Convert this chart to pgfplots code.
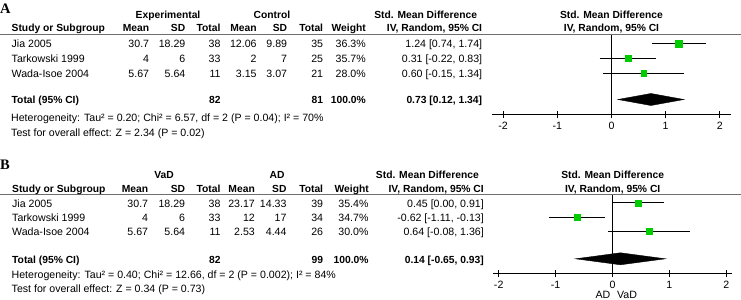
\documentclass[border=0pt]{standalone}
\usepackage{fontspec}
\setmainfont{Liberation Sans}
\newfontfamily\figserif{Liberation Serif}
\usepackage{pgfplots}
\pgfplotsset{compat=1.18}
\definecolor{rmgreen}{RGB}{0,204,0}
\definecolor{rulegray}{RGB}{110,110,110}
\newcommand{\R}[3]{\node[anchor=base east] at (#1bp,-#2bp) {#3};}
\newcommand{\Lt}[3]{\node[anchor=base west] at (#1bp,-#2bp) {#3};}
\newcommand{\Ct}[3]{\node[anchor=base] at (#1bp,-#2bp) {#3};}
\newcommand{\B}{\bfseries\fontsize{10.3bp}{12bp}\selectfont}
\begin{document}
\begin{tikzpicture}[every node/.style={font=\fontsize{10.6bp}{12bp}\selectfont, inner sep=0pt, text=black}]
\useasboundingbox (0bp,0bp) rectangle (741bp,-300bp);
% ---------------- Panel A ----------------
\begin{axis}[at={(491.8bp,-114bp)}, anchor=south west, scale only axis,
  width=239.3bp, height=80bp, xmin=-2.21, xmax=2.21, ymin=-114, ymax=-34,
  axis x line*=bottom, axis y line=none, clip=false,
  xtick={-2,-1,0,1,2}, xticklabels={-2,-1,0,1,2},
  xtick align=center, major tick length=7bp,
  x axis line style={line width=0.8bp, black}, xtick style={line width=0.8bp, black, draw=black},
  xticklabel style={anchor=base, yshift=-12bp}]
\addplot[black, line width=0.8bp] coordinates {(0,-34) (0,-114)};
\addplot[black, line width=0.8bp, unbounded coords=jump] coordinates {(0.74,-43.5) (1.74,-43.5) (nan,nan) (-0.22,-58.3) (0.83,-58.3) (nan,nan) (-0.15,-73) (1.34,-73)};
\addplot[only marks, mark=square*, mark size=3.2bp, color=rmgreen] coordinates {(1.24,-43.5)};
\addplot[only marks, mark=square*, mark size=3.3bp, color=rmgreen] coordinates {(0.31,-58.3)};
\addplot[only marks, mark=square*, mark size=2.7bp, color=rmgreen] coordinates {(0.60,-73)};
\addplot[fill=black, draw=black] coordinates {(0.12,-99.5) (0.73,-93.5) (1.34,-99.5) (0.73,-105.5)} -- cycle;
\end{axis}
% ---------------- Panel B ----------------
\begin{axis}[at={(493bp,-273.3bp)}, anchor=south west, scale only axis,
  width=238.7bp, height=79bp, xmin=-2.10, xmax=2.095, ymin=-273.3, ymax=-194.3,
  axis x line*=bottom, axis y line=none, clip=false,
  xtick={-2,-1,0,1,2}, xticklabels={-2,-1,0,1,2},
  xtick align=center, major tick length=7bp,
  x axis line style={line width=0.8bp, black}, xtick style={line width=0.8bp, black, draw=black},
  xticklabel style={anchor=base, yshift=-12bp}]
\addplot[black, line width=0.8bp] coordinates {(0,-194.3) (0,-273.3)};
\addplot[black, line width=0.8bp, unbounded coords=jump] coordinates {(0.00,-202.7) (0.91,-202.7) (nan,nan) (-1.11,-217.3) (-0.13,-217.3) (nan,nan) (-0.08,-231) (1.36,-231)};
\addplot[only marks, mark=square*, mark size=3.0bp, color=rmgreen] coordinates {(0.45,-202.7)};
\addplot[only marks, mark=square*, mark size=3.0bp, color=rmgreen] coordinates {(-0.62,-217.3)};
\addplot[only marks, mark=square*, mark size=2.9bp, color=rmgreen] coordinates {(0.64,-231)};
\addplot[fill=black, draw=black] coordinates {(-0.65,-258.8) (0.14,-252.8) (0.93,-258.8) (0.14,-264.8)} -- cycle;
\end{axis}
% rules
\draw[rulegray, line width=1bp] (0bp,-34.3bp) -- (741bp,-34.3bp);
\draw[rulegray, line width=1bp] (0bp,-194.3bp) -- (741bp,-194.3bp);
% ---------------- Panel A text ----------------
\node[anchor=base west, font=\figserif\bfseries\fontsize{14.5bp}{15bp}\selectfont] at (0bp,-13.3bp) {A};
\Ct{168}{18.3}{\B Experimental}
\Ct{272}{18.3}{\B Control}
\R{477.3}{18.3}{\B Std. Mean Difference}
\Ct{611.5}{18.3}{\B Std. Mean Difference}
\Lt{11.5}{31.5}{\B Study or Subgroup}
\R{149.3}{31.5}{\B Mean}
\R{185.5}{31.5}{\B SD}
\R{220.7}{31.5}{\B Total}
\R{256.8}{31.5}{\B Mean}
\R{287.3}{31.5}{\B SD}
\R{323.3}{31.5}{\B Total}
\R{366}{31.5}{\B Weight}
\R{482.3}{31.5}{\B IV, Random, 95\% CI}
\Ct{611.5}{31.5}{\B IV, Random, 95\% CI}
% rows
\Lt{11.5}{47.7}{Jia 2005}
\R{149.3}{47.7}{30.7}\R{185.5}{47.7}{18.29}\R{220.7}{47.7}{38}
\R{256.8}{47.7}{12.06}\R{287.3}{47.7}{9.89}\R{323.3}{47.7}{35}
\R{366}{47.7}{36.3\%}\R{482.3}{47.7}{1.24 [0.74, 1.74]}
\Lt{11.5}{62.7}{Tarkowski 1999}
\R{149.3}{62.7}{4}\R{185.5}{62.7}{6}\R{220.7}{62.7}{33}
\R{256.8}{62.7}{2}\R{287.3}{62.7}{7}\R{323.3}{62.7}{25}
\R{366}{62.7}{35.7\%}\R{482.3}{62.7}{0.31 [-0.22, 0.83]}
\Lt{11.5}{77.7}{Wada-Isoe 2004}
\R{149.3}{77.7}{5.67}\R{185.5}{77.7}{5.64}\R{220.7}{77.7}{11}
\R{256.8}{77.7}{3.15}\R{287.3}{77.7}{3.07}\R{323.3}{77.7}{21}
\R{366}{77.7}{28.0\%}\R{482.3}{77.7}{0.60 [-0.15, 1.34]}
\Lt{11.5}{103.5}{\B Total (95\% CI)}
\R{220.7}{103.5}{\B 82}\R{323.3}{103.5}{\B 81}
\R{366}{103.5}{\B 100.0\%}\R{482.3}{103.5}{\B 0.73 [0.12, 1.34]}
\Lt{11}{121.5}{Heterogeneity: Tau² = 0.20; Chi² = 6.57, df = 2 (P = 0.04); I² = 70\%}
\Lt{11}{136}{Test for overall effect: Z = 2.34 (P = 0.02)}
% ---------------- Panel B text ----------------
\node[anchor=base west, font=\figserif\bfseries\fontsize{14.5bp}{15bp}\selectfont] at (0bp,-169bp) {B};
\Ct{164}{178.5}{\B VaD}
\Ct{277}{178.5}{\B AD}
\R{479}{178.5}{\B Std. Mean Difference}
\Ct{612.7}{178.5}{\B Std. Mean Difference}
\Lt{12}{192}{\B Study or Subgroup}
\R{148.3}{192}{\B Mean}
\R{185.3}{192}{\B SD}
\R{220.7}{192}{\B Total}
\R{255}{192}{\B Mean}
\R{286.7}{192}{\B SD}
\R{323.3}{192}{\B Total}
\R{369}{192}{\B Weight}
\R{484}{192}{\B IV, Random, 95\% CI}
\Ct{612.7}{192}{\B IV, Random, 95\% CI}
\Lt{12}{207}{Jia 2005}
\R{148.3}{207}{30.7}\R{185.3}{207}{18.29}\R{220.7}{207}{38}
\R{255}{207}{23.17}\R{286.7}{207}{14.33}\R{323.3}{207}{39}
\R{368.7}{207}{35.4\%}\R{484}{207}{0.45 [0.00, 0.91]}
\Lt{12}{221.5}{Tarkowski 1999}
\R{148.3}{221.5}{4}\R{185.3}{221.5}{6}\R{220.7}{221.5}{33}
\R{255}{221.5}{12}\R{286.7}{221.5}{17}\R{323.3}{221.5}{34}
\R{368.7}{221.5}{34.7\%}\R{484}{221.5}{-0.62 [-1.11, -0.13]}
\Lt{12}{235.5}{Wada-Isoe 2004}
\R{148.3}{235.5}{5.67}\R{185.3}{235.5}{5.64}\R{220.7}{235.5}{11}
\R{255}{235.5}{2.53}\R{286.7}{235.5}{4.44}\R{323.3}{235.5}{26}
\R{368.7}{235.5}{30.0\%}\R{484}{235.5}{0.64 [-0.08, 1.36]}
\Lt{12}{263}{\B Total (95\% CI)}
\R{220.7}{263}{\B 82}\R{323.3}{263}{\B 99}
\R{368.7}{263}{\B 100.0\%}\R{484}{263}{\B 0.14 [-0.65, 0.93]}
\Lt{11.5}{278}{Heterogeneity: Tau² = 0.40; Chi² = 12.66, df = 2 (P = 0.002); I² = 84\%}
\Lt{11.5}{292.5}{Test for overall effect: Z = 0.34 (P = 0.73)}
\Ct{603}{298.5}{AD}
\Ct{627}{298.5}{VaD}
\end{tikzpicture}
\end{document}
